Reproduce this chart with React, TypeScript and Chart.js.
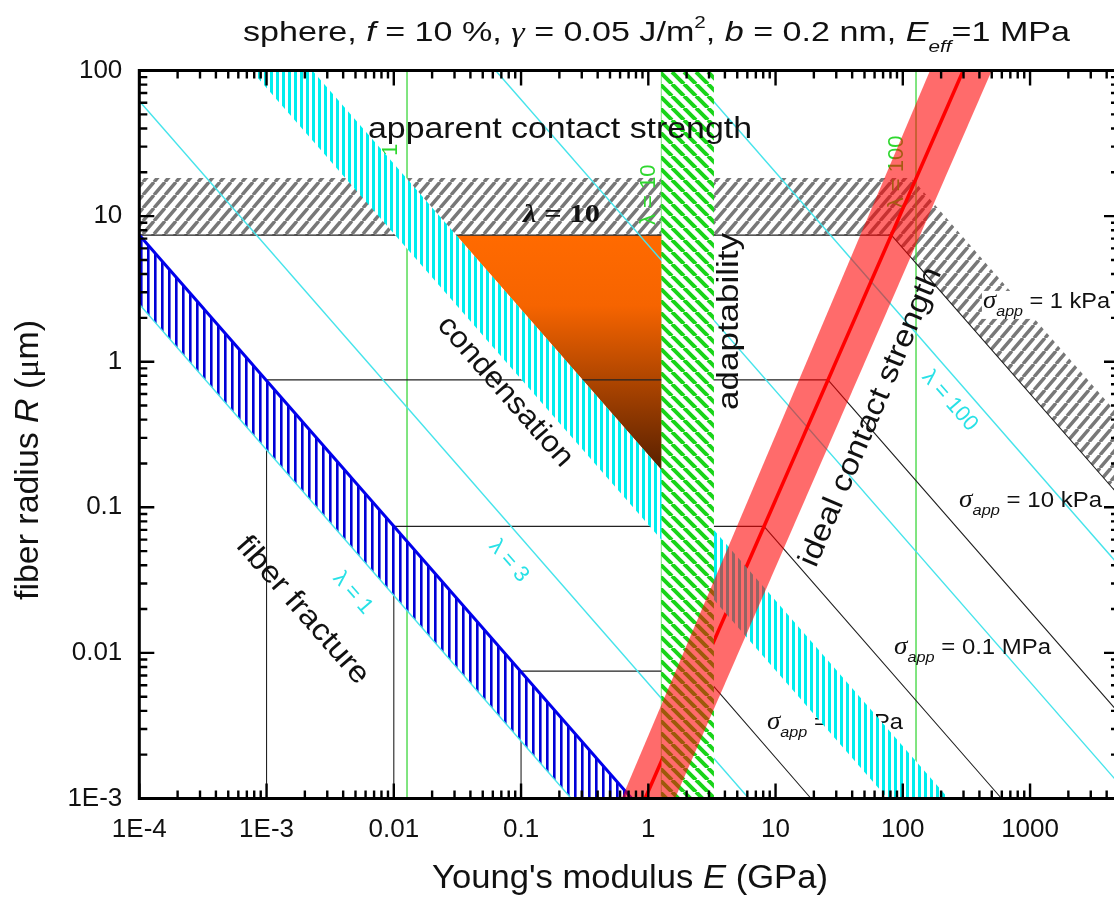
import React, { useEffect, useRef } from 'react';
import { Chart, registerables } from 'chart.js';

Chart.register(...registerables);

// ---------------- data (E in GPa, R in µm) ----------------
const xRange = [1e-4, 5000];
const yRange = [1e-3, 100];
const xTickValues = [1e-4, 1e-3, 0.01, 0.1, 1, 10, 100, 1000];
const xTickLabels = ['1E-4', '1E-3', '0.01', '0.1', '1', '10', '100', '1000'];
const yTickValues = [1e-3, 0.01, 0.1, 1, 10, 100];
const yTickLabels = ['1E-3', '0.01', '0.1', '1', '10', '100'];

// hatched / filled regions (polygon corners)
const apparentBand = [[1e-4, 18.3], [117, 18.3], [6310, 0.339], [6310, 0.0955], [81.3, 7.4], [1e-4, 7.4]];
const fractureBand = [[1e-4, 7.41], [0.741, 1e-3], [0.248, 1e-3], [1e-4, 2.48]];
const fractureEdge = [[1e-4, 7.41], [0.741, 1e-3]];
const condensationBand = [[7.59e-4, 100], [2.29e-3, 100], [229, 1e-3], [75.9, 1e-3]];
const adaptabilityBand = [[1.27, 1e-4], [1.27, 1e3], [3.28, 1e3], [3.28, 1e-4]];
const idealBand = [[163.7, 100], [500, 100], [1.62, 1e-3], [0.618, 1e-3]];
const idealCenter = [[298.5, 100], [0.944, 1e-3]];
const orangeRegion = [[0.0309, 7.4], [1.27, 7.4], [1.27, 0.18]];

// green λ lines (vertical)
const greenLambdaE = [0.0127, 1.27, 127];
const greenLambdaLabels = ['λ = 1', 'λ = 10', 'λ = 100'];

// cyan λ lines
const lambda1Line = [[1e-4, 2.48], [0.248, 1e-3]];
const lambda3Line = [[1e-4, 61.7], [6.17, 1e-3]];
const lambda30Line = [[0.0631, 100], [6310, 1e-3]];
const lambda100Line = [[2.0, 100], [6310, 0.0316]];

// σ_app staircases
const sigma1kPa = [[1e-4, 7.4], [81.3, 7.4], [6310, 0.0955]];
const sigma10kPa = [[1e-3, 0.75], [25.8, 0.75], [6310, 0.00306]];
const sigma01MPa = [[0.01, 0.074], [8.11, 0.074], [597, 1e-3]];
const sigma1MPa = [[0.1, 0.0075], [2.57, 0.0075], [19.0, 1e-3]];
const sigmaDrops = [
  [[1e-3, 0.248], [1e-3, 1e-3]],
  [[0.01, 0.0248], [0.01, 1e-3]],
  [[0.1, 0.00248], [0.1, 1e-3]],
];
const sigmaLabels = ['= 1 kPa', '= 10 kPa', '= 0.1 MPa', '= 1 MPa'];

// ---------------- styles ----------------
const CANVAS_W = 1140;
const CANVAS_H = 897;
const SANS = '"Liberation Sans", Arial, sans-serif';
const SERIF = '"Liberation Serif", "Times New Roman", serif';
const fnt = (size: number, style = '') => `${style} ${size}px ${SANS}`.trim();
const CYAN_LINE = 'rgb(70,228,235)';
const GREEN_LINE = 'rgb(60,215,60)';

type Run = { t: string; font: string; dy?: number };
type TextOpt = { angle?: number; align?: 'left' | 'center'; width?: number; color?: string; bg?: string };

function drawRuns(ctx: CanvasRenderingContext2D, runs: Run[], x: number, y: number, o: TextOpt) {
  ctx.save();
  ctx.textBaseline = 'alphabetic';
  ctx.textAlign = 'left';
  const widths = runs.map((r) => {
    ctx.font = r.font;
    return ctx.measureText(r.t).width;
  });
  const W = widths.reduce((a, b) => a + b, 0);
  const sx = o.width ? o.width / W : 1;
  ctx.translate(x, y);
  if (o.angle) ctx.rotate((o.angle * Math.PI) / 180);
  ctx.scale(sx, 1);
  let cx = o.align === 'center' ? -W / 2 : 0;
  if (o.bg) {
    ctx.fillStyle = o.bg;
    ctx.fillRect(cx - 1, -17, W + 2, 28);
  }
  ctx.fillStyle = o.color || '#000';
  runs.forEach((r, i) => {
    ctx.font = r.font;
    ctx.fillText(r.t, cx, r.dy || 0);
    cx += widths[i];
  });
  ctx.restore();
}

function makePattern(w: number, h: number, bg: string | null, color: string, lw: number, kind: 'v' | 'slash' | 'back') {
  const c = document.createElement('canvas');
  c.width = w;
  c.height = h;
  const g = c.getContext('2d')!;
  if (bg) {
    g.fillStyle = bg;
    g.fillRect(0, 0, w, h);
  }
  if (kind === 'v') {
    g.fillStyle = color;
    g.fillRect(0, 0, lw, h);
  } else {
    g.strokeStyle = color;
    g.lineWidth = lw;
    g.beginPath();
    for (const k of [-w, 0, w]) {
      if (kind === 'slash') {
        g.moveTo(k, h);
        g.lineTo(k + w, 0);
      } else {
        g.moveTo(k, 0);
        g.lineTo(k + w, h);
      }
    }
    g.stroke();
  }
  return g.createPattern(c, 'repeat')!;
}

const P = (a: number[][]) => a.map(([x, y]) => ({ x, y }));
const lineDs = (label: string, data: number[][], color: string, width: number) => ({
  label,
  data: P(data),
  showLine: true,
  borderColor: color,
  borderWidth: width,
  pointRadius: 0,
  pointHoverRadius: 0,
  fill: false,
  tension: 0,
});
const areaDs = (label: string, data: number[][], bg: any) => ({
  label,
  data: P(data),
  showLine: true,
  borderColor: 'rgba(0,0,0,0)',
  borderWidth: 0,
  pointRadius: 0,
  pointHoverRadius: 0,
  fill: 'shape',
  backgroundColor: bg,
  tension: 0,
});

function decadeIndex(values: number[], v: number) {
  return values.findIndex((t) => Math.abs(Math.log10(t) - Math.log10(v)) < 1e-6);
}

export default function App() {
  const ref = useRef<HTMLCanvasElement>(null);

  useEffect(() => {
    const canvas = ref.current!;
    const grayPat = makePattern(11, 13, null, 'rgb(120,120,120)', 3.4, 'slash');
    const greenPat = makePattern(12, 12, '#ffffff', 'rgb(25,212,25)', 4, 'back');
    const cyanPat = makePattern(6, 6, '#ffffff', 'rgb(0,238,238)', 3, 'v');
    const bluePat = makePattern(7, 7, '#ffffff', 'rgb(0,0,215)', 2.6, 'v');

    const orangeFill = (c: any) => {
      const ch = c.chart;
      const ys = ch.scales && ch.scales.y;
      if (!ys || !ch.chartArea) return '#ff6600';
      const g = ch.ctx.createLinearGradient(0, ys.getPixelForValue(orangeRegion[0][1]), 0, ys.getPixelForValue(orangeRegion[2][1]));
      g.addColorStop(0, 'rgb(255,106,0)');
      g.addColorStop(0.3, 'rgb(246,100,0)');
      g.addColorStop(1, 'rgb(88,32,0)');
      return g;
    };

    const layers: any[] = [
      areaDs('apparent', apparentBand, grayPat),
      ...greenLambdaE.map((e, i) => lineDs('greenLine' + i, [[e, 1e-4], [e, 1e3]], GREEN_LINE, 1.3)),
      areaDs('orange', orangeRegion, orangeFill),
      lineDs('sigma1kPa', sigma1kPa, '#222', 1.1),
      lineDs('sigma10kPa', sigma10kPa, '#222', 1.1),
      lineDs('sigma01MPa', sigma01MPa, '#222', 1.1),
      lineDs('sigma1MPa', sigma1MPa, '#222', 1.1),
      ...sigmaDrops.map((d, i) => lineDs('drop' + i, d, '#222', 1.1)),
      lineDs('lambda3', lambda3Line, CYAN_LINE, 1.4),
      lineDs('lambda30', lambda30Line, CYAN_LINE, 1.4),
      lineDs('lambda100', lambda100Line, CYAN_LINE, 1.4),
      areaDs('fracture', fractureBand, bluePat),
      lineDs('fractureEdge', fractureEdge, 'rgb(0,0,235)', 3),
      lineDs('lambda1', lambda1Line, CYAN_LINE, 1.4),
      lineDs('idealCenter', idealCenter, '#ff0000', 3.5),
      areaDs('condensation', condensationBand, cyanPat),
      areaDs('adaptability', adaptabilityBand, greenPat),
      areaDs('ideal', idealBand, 'rgba(255,0,0,0.58)'),
    ];
    const datasets = layers.map((d, i) => ({ ...d, order: layers.length - i }));

    const at = (chart: any, E: number, R: number) => [chart.scales.x.getPixelForValue(E), chart.scales.y.getPixelForValue(R)];

    const layerPlugin = {
      id: 'layers',
      afterDatasetDraw(chart: any, args: any) {
        const ctx: CanvasRenderingContext2D = chart.ctx;
        const label = chart.data.datasets[args.index].label;
        if (label === 'greenLine2') {
          // green λ labels (vertical)
          const pos = [[0.0106, 21.4], [1.13, 14.0], [100, 20.1]];
          greenLambdaLabels.forEach((t, i) => {
            const [x, y] = at(chart, pos[i][0], pos[i][1]);
            drawRuns(ctx, [{ t, font: fnt(22) }], x, y, { angle: -90, align: 'center', color: 'rgb(45,215,45)' });
          });
        }
        if (label === 'lambda100') {
          const pos = [[427, 2.34], [277, 0.1005], [85.3, 9.82e-3], [8.57, 3.0e-3]];
          const widths = [127, 143, 157, 136];
          sigmaLabels.forEach((t, i) => {
            const [x, y] = at(chart, pos[i][0], pos[i][1]);
            drawRuns(
              ctx,
              [
                { t: 'σ', font: `italic 25px ${SERIF}` },
                { t: 'app', font: fnt(15, 'italic'), dy: 8 },
                { t: ' ' + t, font: fnt(22) },
              ],
              x,
              y,
              { width: widths[i], color: '#111', bg: i === 0 ? '#ffffff' : undefined },
            );
          });
        }
      },
      afterDraw(chart: any) {
        const ctx: CanvasRenderingContext2D = chart.ctx;
        const a = chart.chartArea;
        const xs = chart.scales.x;
        const ys = chart.scales.y;

        // in-plot labels
        let p = at(chart, 6.27e-3, 34.2);
        drawRuns(ctx, [{ t: 'apparent contact strength', font: fnt(30) }], p[0], p[1], { width: 384, color: '#111' });
        p = at(chart, 0.0668, 0.57);
        drawRuns(ctx, [{ t: 'condensation', font: fnt(30) }], p[0], p[1], { angle: 48.8, align: 'center', width: 190, color: '#111' });
        p = at(chart, 1.71e-3, 0.01795);
        drawRuns(ctx, [{ t: 'fiber fracture', font: fnt(30) }], p[0], p[1], { angle: 48.8, align: 'center', width: 186, color: '#111' });
        p = at(chart, 5.04, 1.89);
        drawRuns(ctx, [{ t: 'adaptability', font: fnt(30) }], p[0], p[1], { angle: -90, align: 'center', width: 177, color: '#111' });
        p = at(chart, 64.6, 0.396);
        drawRuns(ctx, [{ t: 'ideal contact strength', font: fnt(30) }], p[0], p[1], { angle: -67, align: 'center', width: 322, color: '#111' });
        p = at(chart, 0.1035, 9.15);
        drawRuns(
          ctx,
          [
            { t: 'λ', font: `bold italic 26px ${SERIF}` },
            { t: ' = 10', font: `bold 26px ${SERIF}` },
          ],
          p[0],
          p[1],
          { width: 77, color: '#111' },
        );
        const cyanLabels = [['λ = 1', 4.37e-3, 0.0242], ['λ = 3', 0.0735, 0.0402], ['λ = 100', 215, 0.505]] as const;
        cyanLabels.forEach(([t, E, R]) => {
          const q = at(chart, E, R);
          drawRuns(ctx, [{ t, font: fnt(22) }], q[0], q[1], { angle: 48.8, align: 'center', color: 'rgb(40,225,230)' });
        });

        // frame + inward ticks
        ctx.save();
        ctx.strokeStyle = '#000';
        ctx.lineWidth = 3;
        ctx.strokeRect(a.left, a.top, a.right - a.left, a.bottom - a.top);
        ctx.lineWidth = 2.4;
        ctx.beginPath();
        for (let d = -4; d <= 3; d++) {
          for (let m = 1; m <= 9; m++) {
            const v = m * Math.pow(10, d);
            if (v < xRange[0] * 0.999 || v > xRange[1] * 1.001) continue;
            const px = xs.getPixelForValue(v);
            const len = m === 1 ? 15 : 8;
            ctx.moveTo(px, a.bottom);
            ctx.lineTo(px, a.bottom - len);
            ctx.moveTo(px, a.top);
            ctx.lineTo(px, a.top + len);
          }
        }
        for (let d = -3; d <= 2; d++) {
          for (let m = 1; m <= 9; m++) {
            const v = m * Math.pow(10, d);
            if (v < yRange[0] * 0.999 || v > yRange[1] * 1.001) continue;
            const py = ys.getPixelForValue(v);
            const len = m === 1 ? 15 : 8;
            ctx.moveTo(a.left, py);
            ctx.lineTo(a.left + len, py);
            ctx.moveTo(a.right, py);
            ctx.lineTo(a.right - len, py);
          }
        }
        ctx.stroke();
        ctx.restore();

        // title
        drawRuns(
          ctx,
          [
            { t: 'sphere, ', font: fnt(28) },
            { t: 'f', font: fnt(28, 'italic') },
            { t: ' = 10 %, ', font: fnt(28) },
            { t: 'γ', font: `italic 28px ${SERIF}` },
            { t: ' = 0.05 J/m', font: fnt(28) },
            { t: '2', font: fnt(17), dy: -13 },
            { t: ', ', font: fnt(28) },
            { t: 'b', font: fnt(28, 'italic') },
            { t: ' = 0.2 nm, ', font: fnt(28) },
            { t: 'E', font: fnt(28, 'italic') },
            { t: 'eff', font: fnt(17, 'italic'), dy: 11 },
            { t: '=1 MPa', font: fnt(28) },
          ],
          243,
          40.5,
          { width: 827, color: '#111' },
        );
        // axis titles
        drawRuns(
          ctx,
          [
            { t: "Young's modulus ", font: fnt(33) },
            { t: 'E', font: fnt(33, 'italic') },
            { t: ' (GPa)', font: fnt(33) },
          ],
          630,
          888,
          { align: 'center', width: 396, color: '#111' },
        );
        drawRuns(
          ctx,
          [
            { t: 'fiber radius ', font: fnt(33) },
            { t: 'R', font: fnt(33, 'italic') },
            { t: ' (', font: fnt(33) },
            { t: 'μ', font: `33px ${SERIF}` },
            { t: 'm)', font: fnt(33) },
          ],
          38,
          460,
          { angle: -90, align: 'center', width: 280, color: '#111' },
        );
      },
    };

    const chart = new Chart(canvas, {
      type: 'scatter',
      data: { datasets },
      options: {
        animation: false,
        responsive: false,
        maintainAspectRatio: false,
        devicePixelRatio: 1,
        events: [],
        layout: { padding: { top: 70.5, left: 0, right: CANVAS_W - 1119, bottom: 0 } },
        plugins: { legend: { display: false }, tooltip: { enabled: false }, title: { display: false } },
        scales: {
          x: {
            type: 'logarithmic',
            position: 'bottom',
            min: xRange[0],
            max: xRange[1],
            bounds: 'data',
            grid: { display: false, drawTicks: false },
            border: { display: false },
            afterBuildTicks: (s: any) => {
              s.ticks = xTickValues.map((value) => ({ value }));
            },
            afterFit: (s: any) => {
              s.height = CANVAS_H - 798.5;
            },
            ticks: {
              autoSkip: false,
              maxRotation: 0,
              padding: 16,
              color: '#111',
              font: { family: 'Liberation Sans', size: 26 },
              callback: (v: any) => {
                const i = decadeIndex(xTickValues, Number(v));
                return i >= 0 ? xTickLabels[i] : '';
              },
            },
          },
          y: {
            type: 'logarithmic',
            position: 'left',
            min: yRange[0],
            max: yRange[1],
            bounds: 'data',
            grid: { display: false, drawTicks: false },
            border: { display: false },
            afterBuildTicks: (s: any) => {
              s.ticks = yTickValues.map((value) => ({ value }));
            },
            afterFit: (s: any) => {
              s.width = 139.3;
            },
            ticks: {
              autoSkip: false,
              padding: 17,
              color: '#111',
              font: { family: 'Liberation Sans', size: 26 },
              callback: (v: any) => {
                const i = decadeIndex(yTickValues, Number(v));
                return i >= 0 ? yTickLabels[i] : '';
              },
            },
          },
        },
      } as any,
      plugins: [layerPlugin],
    });
    return () => chart.destroy();
  }, []);

  return (
    <div style={{ position: 'fixed', left: 0, top: 0, width: 1114, height: 897, overflow: 'hidden', background: '#fff' }}>
      <canvas ref={ref} width={CANVAS_W} height={CANVAS_H} style={{ display: 'block', width: CANVAS_W, height: CANVAS_H }} />
    </div>
  );
}
